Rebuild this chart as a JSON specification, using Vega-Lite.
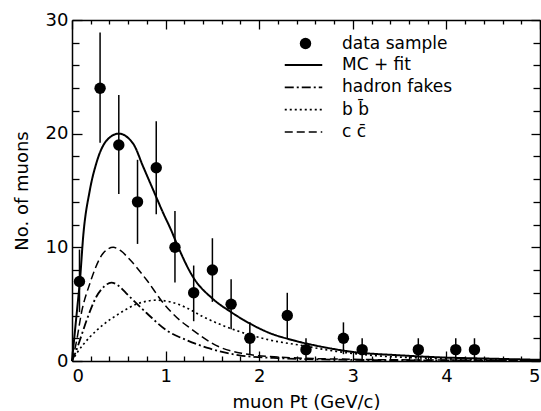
{
  "$schema": "https://vega.github.io/schema/vega-lite/v6.json",
  "width": 468,
  "height": 341,
  "autosize": {"type": "none"},
  "padding": {"left": 72, "top": 20, "right": 1, "bottom": 50},
  "background": "white",
  "config": {
    "font": "DejaVu Sans",
    "view": {"stroke": null},
    "axis": {
      "grid": false,
      "domainColor": "black",
      "domainWidth": 1.5,
      "tickColor": "black",
      "tickWidth": 1.3,
      "labelColor": "black",
      "titleColor": "black",
      "labelFont": "DejaVu Sans",
      "titleFont": "DejaVu Sans",
      "labelFontSize": 18,
      "titleFontSize": 18,
      "titleFontWeight": "normal"
    },
    "legend": {
      "labelFont": "DejaVu Sans",
      "labelFontSize": 17,
      "labelColor": "black",
      "padding": 0
    }
  },
  "datasets": {
    "points": [
      {"x": 0.08, "y": 7, "lo": 4.3, "hi": 9.8},
      {"x": 0.3, "y": 24, "lo": 19.2, "hi": 28.9},
      {"x": 0.5, "y": 19, "lo": 14.7, "hi": 23.4},
      {"x": 0.7, "y": 14, "lo": 10.3, "hi": 17.7},
      {"x": 0.9, "y": 17, "lo": 12.9, "hi": 21.1},
      {"x": 1.1, "y": 10, "lo": 6.9, "hi": 13.2},
      {"x": 1.3, "y": 6, "lo": 3.5, "hi": 8.4},
      {"x": 1.5, "y": 8, "lo": 5.2, "hi": 10.8},
      {"x": 1.7, "y": 5, "lo": 2.8, "hi": 7.2},
      {"x": 1.9, "y": 2, "lo": 0.6, "hi": 3.4},
      {"x": 2.3, "y": 4, "lo": 2.0, "hi": 6.0},
      {"x": 2.5, "y": 1, "lo": 0, "hi": 2},
      {"x": 2.9, "y": 2, "lo": 0.6, "hi": 3.4},
      {"x": 3.1, "y": 1, "lo": 0, "hi": 2},
      {"x": 3.7, "y": 1, "lo": 0, "hi": 2},
      {"x": 4.1, "y": 1, "lo": 0, "hi": 2},
      {"x": 4.3, "y": 1, "lo": 0, "hi": 2}
    ],
    "curves": [
      {"series": "MC + fit", "x": 0, "y": 0},
      {"series": "MC + fit", "x": 0.03, "y": 2.5},
      {"series": "MC + fit", "x": 0.06, "y": 5.0},
      {"series": "MC + fit", "x": 0.085, "y": 7.1},
      {"series": "MC + fit", "x": 0.12, "y": 11.0},
      {"series": "MC + fit", "x": 0.19, "y": 15.0},
      {"series": "MC + fit", "x": 0.26, "y": 17.4},
      {"series": "MC + fit", "x": 0.37, "y": 19.4},
      {"series": "MC + fit", "x": 0.5, "y": 20.0},
      {"series": "MC + fit", "x": 0.655, "y": 19.1},
      {"series": "MC + fit", "x": 0.76, "y": 17.1},
      {"series": "MC + fit", "x": 0.87, "y": 15.0},
      {"series": "MC + fit", "x": 0.975, "y": 13.0},
      {"series": "MC + fit", "x": 1.065, "y": 11.4},
      {"series": "MC + fit", "x": 1.1, "y": 10.7},
      {"series": "MC + fit", "x": 1.3, "y": 7.3},
      {"series": "MC + fit", "x": 1.5, "y": 5.5},
      {"series": "MC + fit", "x": 1.7, "y": 4.3},
      {"series": "MC + fit", "x": 1.9, "y": 3.3},
      {"series": "MC + fit", "x": 2.1, "y": 2.5},
      {"series": "MC + fit", "x": 2.4, "y": 1.75},
      {"series": "MC + fit", "x": 2.7, "y": 1.2},
      {"series": "MC + fit", "x": 3.0, "y": 0.8},
      {"series": "MC + fit", "x": 3.5, "y": 0.5},
      {"series": "MC + fit", "x": 4.0, "y": 0.3},
      {"series": "MC + fit", "x": 4.5, "y": 0.2},
      {"series": "MC + fit", "x": 5.0, "y": 0.1},
      {"series": "hadron fakes", "x": 0, "y": 0},
      {"series": "hadron fakes", "x": 0.04, "y": 0.8},
      {"series": "hadron fakes", "x": 0.085, "y": 1.85},
      {"series": "hadron fakes", "x": 0.157, "y": 3.6},
      {"series": "hadron fakes", "x": 0.26, "y": 5.65},
      {"series": "hadron fakes", "x": 0.35, "y": 6.6},
      {"series": "hadron fakes", "x": 0.42, "y": 6.9},
      {"series": "hadron fakes", "x": 0.5, "y": 6.6},
      {"series": "hadron fakes", "x": 0.58, "y": 5.95},
      {"series": "hadron fakes", "x": 0.8, "y": 4.2},
      {"series": "hadron fakes", "x": 1.01, "y": 2.7},
      {"series": "hadron fakes", "x": 1.22, "y": 1.85},
      {"series": "hadron fakes", "x": 1.47, "y": 1.1},
      {"series": "hadron fakes", "x": 1.79, "y": 0.5},
      {"series": "hadron fakes", "x": 2.2, "y": 0.25},
      {"series": "hadron fakes", "x": 3.0, "y": 0.1},
      {"series": "hadron fakes", "x": 4.0, "y": 0.05},
      {"series": "hadron fakes", "x": 5.0, "y": 0.03},
      {"series": "b b̄", "x": 0, "y": 0},
      {"series": "b b̄", "x": 0.05, "y": 0.67},
      {"series": "b b̄", "x": 0.19, "y": 2.1},
      {"series": "b b̄", "x": 0.335, "y": 3.2},
      {"series": "b b̄", "x": 0.51, "y": 4.2},
      {"series": "b b̄", "x": 0.69, "y": 5.0},
      {"series": "b b̄", "x": 0.9, "y": 5.35},
      {"series": "b b̄", "x": 1.05, "y": 5.2},
      {"series": "b b̄", "x": 1.22, "y": 4.7},
      {"series": "b b̄", "x": 1.4, "y": 3.9},
      {"series": "b b̄", "x": 1.75, "y": 2.7},
      {"series": "b b̄", "x": 2.11, "y": 1.85},
      {"series": "b b̄", "x": 2.43, "y": 1.4},
      {"series": "b b̄", "x": 2.82, "y": 0.85},
      {"series": "b b̄", "x": 3.2, "y": 0.5},
      {"series": "b b̄", "x": 4.0, "y": 0.2},
      {"series": "b b̄", "x": 5.0, "y": 0.05},
      {"series": "c c̄", "x": 0, "y": 0},
      {"series": "c c̄", "x": 0.05, "y": 1.8},
      {"series": "c c̄", "x": 0.1, "y": 4.2},
      {"series": "c c̄", "x": 0.19, "y": 6.8},
      {"series": "c c̄", "x": 0.335, "y": 9.5},
      {"series": "c c̄", "x": 0.44, "y": 10.0},
      {"series": "c c̄", "x": 0.52, "y": 9.7},
      {"series": "c c̄", "x": 0.62, "y": 8.9},
      {"series": "c c̄", "x": 0.8, "y": 7.1},
      {"series": "c c̄", "x": 0.975, "y": 5.1},
      {"series": "c c̄", "x": 1.15, "y": 3.6},
      {"series": "c c̄", "x": 1.26, "y": 2.9},
      {"series": "c c̄", "x": 1.57, "y": 1.25},
      {"series": "c c̄", "x": 1.82, "y": 0.67},
      {"series": "c c̄", "x": 2.2, "y": 0.35},
      {"series": "c c̄", "x": 3.0, "y": 0.15},
      {"series": "c c̄", "x": 4.0, "y": 0.08},
      {"series": "c c̄", "x": 5.0, "y": 0.05}
    ]
  },
  "resolve": {"axis": {"x": "independent", "y": "independent"}},
  "layer": [
    {
      "data": {"name": "curves"},
      "mark": {"type": "line", "interpolate": "monotone", "color": "black"},
      "encoding": {
        "x": {
          "field": "x", "type": "quantitative",
          "scale": {"domain": [0, 5], "nice": false},
          "axis": {
            "orient": "bottom",
            "values": [0, 0.2, 0.4, 0.6, 0.8, 1, 1.2, 1.4, 1.6, 1.8, 2, 2.2, 2.4, 2.6, 2.8, 3, 3.2, 3.4, 3.6, 3.8, 4, 4.2, 4.4, 4.6, 4.8, 5],
            "format": ".0f",
            "tickSize": {"condition": {"test": "abs(datum.value - round(datum.value)) < 0.001", "value": -10}, "value": -5},
            "labelExpr": "abs(datum.value - round(datum.value)) < 0.001 ? datum.label : ''",
            "labelPadding": 16,
            "title": "muon Pt (GeV/c)",
            "titlePadding": 8
          }
        },
        "y": {
          "field": "y", "type": "quantitative",
          "scale": {"domain": [0, 30], "nice": false},
          "axis": {
            "orient": "left",
            "values": [0, 2, 4, 6, 8, 10, 12, 14, 16, 18, 20, 22, 24, 26, 28, 30],
            "tickSize": {"condition": {"test": "datum.value % 10 === 0", "value": -10}, "value": -7},
            "labelExpr": "datum.value % 10 === 0 ? datum.label : ''",
            "labelPadding": 14,
            "title": "No. of muons",
            "titlePadding": 14
          }
        },
        "detail": {"field": "series"},
        "strokeDash": {
          "field": "series", "type": "nominal",
          "scale": {
            "domain": ["MC + fit", "hadron fakes", "b b̄", "c c̄"],
            "range": [[1, 0], [9, 3, 2, 3], [2, 3], [8, 4]]
          },
          "legend": {
            "orient": "none",
            "legendX": 223,
            "legendY": 36.5,
            "title": null,
            "symbolType": "M-2.5,0H2.5",
            "symbolSize": 225,
            "symbolStrokeColor": "black",
            "symbolStrokeWidth": 1.5,
            "labelOffset": 30,
            "rowPadding": 4.3
          }
        },
        "strokeWidth": {
          "field": "series", "type": "nominal",
          "scale": {"domain": ["MC + fit", "hadron fakes", "b b̄", "c c̄"], "range": [2, 1.5, 1.8, 1.3]},
          "legend": null
        }
      }
    },
    {
      "data": {"name": "points"},
      "mark": {"type": "rule", "color": "black", "strokeWidth": 1.5},
      "encoding": {
        "x": {"field": "x", "type": "quantitative", "scale": {"domain": [0, 5], "nice": false}, "axis": null},
        "y": {"field": "lo", "type": "quantitative", "scale": {"domain": [0, 30], "nice": false}, "axis": null},
        "y2": {"field": "hi"}
      }
    },
    {
      "data": {"name": "points"},
      "mark": {"type": "point", "filled": true, "color": "black", "opacity": 1, "size": 130},
      "encoding": {
        "x": {
          "field": "x", "type": "quantitative",
          "scale": {"domain": [0, 5], "nice": false},
          "axis": {
            "orient": "top",
            "values": [0, 0.2, 0.4, 0.6, 0.8, 1, 1.2, 1.4, 1.6, 1.8, 2, 2.2, 2.4, 2.6, 2.8, 3, 3.2, 3.4, 3.6, 3.8, 4, 4.2, 4.4, 4.6, 4.8, 5],
            "tickSize": {"condition": {"test": "abs(datum.value - round(datum.value)) < 0.001", "value": -9}, "value": -4},
            "labels": false,
            "title": null
          }
        },
        "y": {
          "field": "y", "type": "quantitative",
          "scale": {"domain": [0, 30], "nice": false},
          "axis": {
            "orient": "right",
            "values": [0, 2, 4, 6, 8, 10, 12, 14, 16, 18, 20, 22, 24, 26, 28, 30],
            "tickSize": {"condition": {"test": "datum.value % 10 === 0", "value": -9}, "value": -7},
            "labels": false,
            "title": null
          }
        },
        "shape": {
          "datum": "data sample", "type": "nominal",
          "scale": {"range": ["circle"]},
          "legend": {
            "orient": "none",
            "legendX": 225,
            "legendY": 15,
            "title": null,
            "symbolSize": 130,
            "symbolFillColor": "black",
            "symbolStrokeColor": "black",
            "labelOffset": 28
          }
        }
      }
    }
  ]
}
